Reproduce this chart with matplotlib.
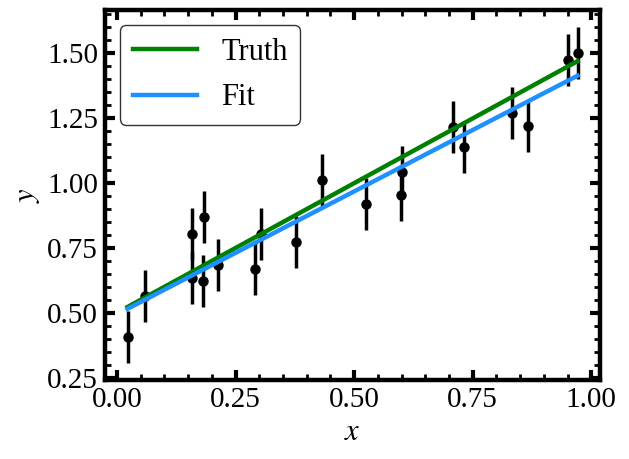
import matplotlib
matplotlib.use("Agg")
import matplotlib.pyplot as plt
from matplotlib.ticker import MultipleLocator, FormatStrFormatter

plt.rcParams['font.family'] = ['Liberation Serif', 'DejaVu Serif']
plt.rcParams['mathtext.fontset'] = 'stix'

# data
x_data = [0.022, 0.058, 0.157, 0.157, 0.184, 0.182, 0.213, 0.291, 0.304,
          0.377, 0.432, 0.524, 0.599, 0.601, 0.709, 0.732, 0.833, 0.867,
          0.951, 0.971]
y_data = [0.406, 0.564, 0.803, 0.635, 0.868, 0.623, 0.685, 0.668, 0.801,
          0.772, 1.012, 0.919, 0.954, 1.042, 1.214, 1.137, 1.268, 1.219,
          1.473, 1.499]
y_err = [0.1] * len(x_data)

line_x = [0.022, 0.971]
truth_y = [0.522, 1.467]
fit_y = [0.515, 1.411]

fig = plt.figure(figsize=(6.29, 4.59), dpi=100)
ax = fig.add_axes([105/629, 1 - 380/459, (600-105)/629, (380-10)/459])

ax.plot(line_x, truth_y, color='green', lw=3.2, label='Truth', zorder=3)
ax.plot(line_x, fit_y, color='dodgerblue', lw=3.2, label='Fit', zorder=3)
ax.errorbar(x_data, y_data, yerr=y_err, fmt='o', color='black', ms=6.5,
            elinewidth=2.5, capsize=0, zorder=2)

ax.set_xlabel('$x$', fontsize=22)
ax.set_ylabel('$y$', fontsize=22)

ax.xaxis.set_major_locator(MultipleLocator(0.25))
ax.xaxis.set_minor_locator(MultipleLocator(0.05))
ax.yaxis.set_major_locator(MultipleLocator(0.25))
ax.yaxis.set_minor_locator(MultipleLocator(0.05))
ax.xaxis.set_major_formatter(FormatStrFormatter('%.2f'))
ax.yaxis.set_major_formatter(FormatStrFormatter('%.2f'))

ax.tick_params(which='both', direction='in', top=True, right=True, labelsize=21)
ax.tick_params(which='major', length=7, width=3, pad=5)
ax.tick_params(which='minor', length=4, width=2)
for s in ax.spines.values():
    s.set_linewidth(3.2)

leg = ax.legend(loc='upper left', fontsize=22, handlelength=2.1,
                framealpha=1, edgecolor='#333333', fancybox=True,
                borderpad=0.4, labelspacing=0.55, handletextpad=0.8,
                borderaxespad=0.5)
leg.get_frame().set_linewidth(1.0)

fig.savefig('out.png', dpi=100)
